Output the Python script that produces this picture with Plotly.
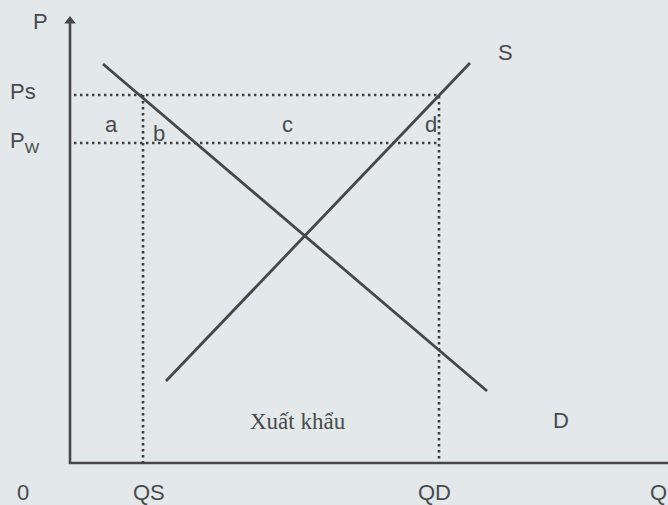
import plotly.graph_objects as go

# ---- data (economic units: Q to the right, P upward) ----
demand_q = [33, 417]
demand_p = [399, 72]
supply_q = [96, 400]
supply_p = [82, 400]
P_s = 368
P_w = 320
Q_s = 73
Q_d = 369
axis_q_max = 598
axis_p_max = 440

area_labels = ["a", "b", "c", "d"]
x_tick_labels = ["0", "QS", "QD", "Q"]
y_tick_labels = ["P", "Ps", "P<sub>W</sub>"]
curve_labels = ["S", "D"]
export_label = "Xuất khẩu"

BG = "#e3e9eb"
INK = "#474747"
TXT = "#4a4a4a"

fig = go.Figure()

# axes
fig.add_trace(go.Scatter(x=[0, 0, axis_q_max], y=[axis_p_max, 0, 0], mode="lines",
                         line=dict(color=INK, width=2.6), hoverinfo="skip"))
fig.add_trace(go.Scatter(x=[0], y=[axis_p_max + 2], mode="markers",
                         marker=dict(symbol="triangle-up", size=10, color=INK), hoverinfo="skip"))

# dotted guide lines
dot = dict(color="#3f3f3f", width=2.6, dash="2.4px,3.6px")
fig.add_trace(go.Scatter(x=[4, Q_d, Q_d], y=[P_s, P_s, 0], mode="lines", line=dot, hoverinfo="skip"))
fig.add_trace(go.Scatter(x=[4, Q_d], y=[P_w, P_w], mode="lines", line=dot, hoverinfo="skip"))
fig.add_trace(go.Scatter(x=[Q_s, Q_s], y=[P_s, 0], mode="lines", line=dot, hoverinfo="skip"))

# demand & supply
fig.add_trace(go.Scatter(x=demand_q, y=demand_p, mode="lines",
                         line=dict(color=INK, width=2.8), hoverinfo="skip"))
fig.add_trace(go.Scatter(x=supply_q, y=supply_p, mode="lines",
                         line=dict(color=INK, width=2.8), hoverinfo="skip"))

sans = dict(family="Liberation Sans, Arial, sans-serif", size=22, color=TXT)
serif = dict(family="Liberation Serif, Times New Roman, serif", size=23, color=TXT)

def label(text, x, y, font=sans):
    fig.add_annotation(x=x, y=y, text=text, showarrow=False, font=font,
                       xanchor="center", yanchor="middle")

# tick-like labels
x_label_pos = [(-47, -29), (79, -29), (364, -29), (588, -29)]
for t, (x, y) in zip(x_tick_labels, x_label_pos):
    label(t, x, y)
y_label_pos = [(-30, 442), (-47, 372), (-45, 321)]
for t, (x, y) in zip(y_tick_labels, y_label_pos):
    label(t, x, y)

# area labels
area_pos = [(41, 339), (89, 330), (217, 339), (361, 339)]
for t, (x, y) in zip(area_labels, area_pos):
    label(t, x, y)

# curve labels
curve_pos = [(435, 411), (491, 43)]
for t, (x, y) in zip(curve_labels, curve_pos):
    label(t, x, y)

label(export_label, 228, 42, serif)

fig.update_layout(
    width=668, height=505, autosize=False,
    margin=dict(l=0, r=0, t=0, b=0),
    paper_bgcolor=BG, plot_bgcolor=BG,
    showlegend=False,
    xaxis=dict(range=[-70, 598], visible=False, fixedrange=True),
    yaxis=dict(range=[-42, 463], visible=False, fixedrange=True),
)

fig.write_html("out.html", config={"displayModeBar": False},
               post_script="document.body.style.margin='0';document.body.style.overflow='hidden';")
